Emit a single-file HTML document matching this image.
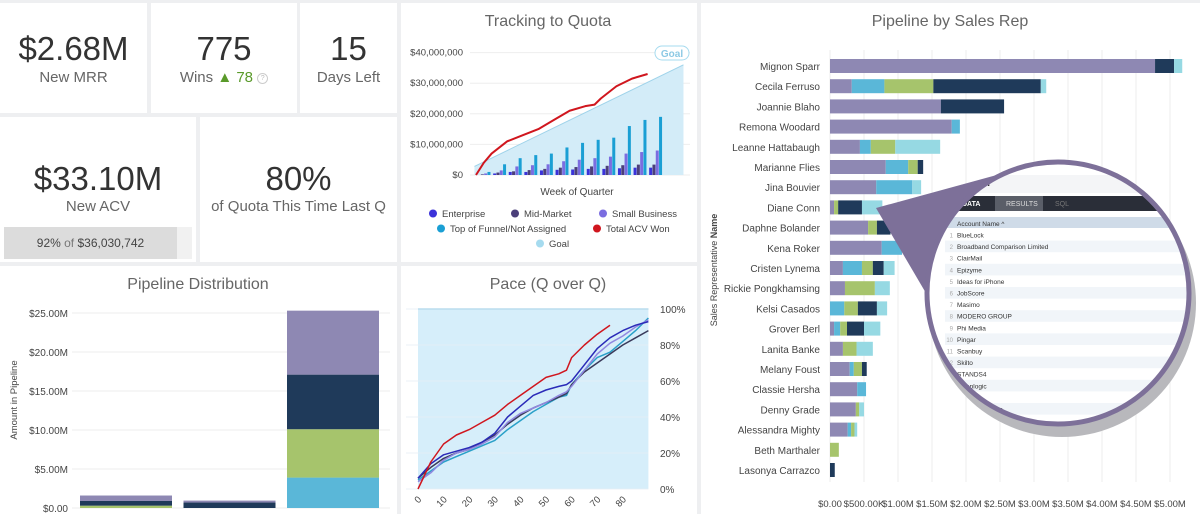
<!DOCTYPE html>
<html><head><meta charset="utf-8">
<style>
html,body{margin:0;padding:0;background:#eeeff1;}
body{width:1200px;height:514px;overflow:hidden;position:relative;font-family:"Liberation Sans",sans-serif;}
.p{position:absolute;background:#fff;}
.kv{position:absolute;left:0;right:0;text-align:center;color:#333;}
svg text{font-family:"Liberation Sans",sans-serif;}
</style></head>
<body>
<div class="p" style="left:0;top:3px;width:147px;height:110px">
 <div class="kv" style="top:27px;font-size:33px">$2.68M</div>
 <div class="kv" style="top:66px;font-size:15px;color:#666">New MRR</div>
</div>
<div class="p" style="left:151px;top:3px;width:146px;height:110px">
 <div class="kv" style="top:27px;font-size:33px">775</div>
 <div class="kv" style="top:66px;font-size:15px;color:#666">Wins <span style="color:#5a9a2a">▲ 78</span> <span style="display:inline-block;width:9px;height:9px;border:1px solid #ccc;border-radius:50%;font-size:7px;line-height:9px;color:#bbb;vertical-align:middle">?</span></div>
</div>
<div class="p" style="left:300px;top:3px;width:97px;height:110px">
 <div class="kv" style="top:27px;font-size:33px">15</div>
 <div class="kv" style="top:66px;font-size:15px;color:#666">Days Left</div>
</div>
<div class="p" style="left:0;top:117px;width:196px;height:145px">
 <div class="kv" style="top:43px;font-size:33px">$33.10M</div>
 <div class="kv" style="top:81px;font-size:15px;color:#666">New ACV</div>
 <div style="position:absolute;left:4px;top:110px;width:188px;height:32px;background:#f1f1f1"></div>
 <div style="position:absolute;left:4px;top:110px;width:173px;height:32px;background:#dcdcdc;text-align:center;line-height:32px;font-size:12px;color:#444">92% <span style="color:#777">of</span> $36,030,742</div>
</div>
<div class="p" style="left:200px;top:117px;width:197px;height:145px">
 <div class="kv" style="top:43px;font-size:33px">80%</div>
 <div class="kv" style="top:81px;font-size:15px;color:#666">of Quota This Time Last Q</div>
</div>
<div class="p" style="left:401px;top:3px;width:296px;height:259px"></div>
<div class="p" style="left:0;top:266px;width:397px;height:248px"></div>
<div class="p" style="left:401px;top:266px;width:296px;height:248px"></div>
<div class="p" style="left:701px;top:3px;width:499px;height:511px"></div>

<svg id="s" width="1200" height="514" style="position:absolute;left:0;top:0"></svg>

<script>
// ---- Tracking to Quota data ----
const trkEnterprise=[0,0.5,1,1,1.5,1.7,1.8,2,2,2.2,2.4,2.4];
const trkMidMarket=[0.2,0.8,1.2,1.6,2,2.4,2.6,2.8,3,3.2,3.4,3.4];
const trkSmallBiz=[0.5,1.5,2.8,3.2,3.5,4.5,5,5.5,6,7,7.5,8];
const trkTopFunnel=[1,3.5,5.5,6.5,7,9,10.5,11.5,12.2,16,18,19];
const trkAcvWeeks=[0,0.5,1,2,3,4,5,6,7,7.6,8,9,10,11];
const trkAcvWon=[0,4,7,11,13,15,18,21,22.5,23,25,29,31.5,33];
const trkGoalWeeks=[-0.1,13.3];
const trkGoalVals=[2.8,36];
const trkTicks=[0,10,20,30,40];
const trkTickLabels=["$0","$10,000,000","$20,000,000","$30,000,000","$40,000,000"];
// ---- Pipeline distribution data ----
const pdCats=["A","B","C"];
const pdBlue=[0,0,3.9];
const pdGreen=[0.3,0,6.2];
const pdNavy=[0.6,0.7,7.0];
const pdPurple=[0.7,0.25,8.2];
const pdTicks=[0,5,10,15,20,25];
const pdTickLabels=["$0.00","$5.00M","$10.00M","$15.00M","$20.00M","$25.00M"];
// ---- Pace data ----
const paceX=[0,5,10,15,20,25,30,35,40,45,50,55,58,60,65,70,75,80,85,90];
const paceRed=[0,15,25,30,33,37,41,47,52,57,62,64,66,73,80,86,91,null,null,null];
const paceBlue=[6,14,19,21,23,26,31,40,46,52,55,57,58,60,69,78,84,88,91,93];
const pacePurple=[4,9,16,20,22,25,29,37,42,45,48,52,54,57,66,75,81,85,90,94];
const paceNavy=[6,12,17,20,22,26,30,36,41,45,48,51,53,58,65,70,75,80,84,88];
const paceCyan=[5,10,15,18,21,24,27,33,38,43,47,51,52,58,66,73,76,82,88,95];
const paceYTicks=[0,20,40,60,80,100];
const paceXTicks=[0,10,20,30,40,50,60,70,80];
// ---- Sales rep data ($M) ----
const reps=["Mignon Sparr","Cecila Ferruso","Joannie Blaho","Remona Woodard","Leanne Hattabaugh","Marianne Flies","Jina Bouvier","Diane Conn","Daphne Bolander","Kena Roker","Cristen Lynema","Rickie Pongkhamsing","Kelsi Casados","Grover Berl","Lanita Banke","Melany Foust","Classie Hersha","Denny Grade","Alessandra Mighty","Beth Marthaler","Lasonya Carrazco"];
const repPurple=[4.78,0.32,1.63,1.79,0.44,0.82,0.68,0.06,0.56,0.76,0.19,0.22,0,0.06,0.19,0.29,0.4,0.38,0.26,0,0];
const repBlue=[0,0.48,0,0.12,0.16,0.33,0.53,0,0,0.3,0.28,0,0.21,0.09,0,0.06,0.13,0,0.05,0,0];
const repGreen=[0,0.72,0,0,0.36,0.14,0,0.06,0.13,0,0.16,0.44,0.2,0.1,0.2,0.12,0,0.05,0.05,0.13,0];
const repNavy=[0.28,1.58,0.93,0,0,0.08,0,0.35,0.2,0,0.16,0,0.28,0.25,0,0.07,0,0,0,0,0.07];
const repCyan=[0.12,0.08,0,0,0.66,0,0.13,0.3,0,0,0.16,0.22,0.15,0.24,0.24,0,0,0.07,0.04,0,0];
const repTicks=[0,0.5,1,1.5,2,2.5,3,3.5,4,4.5,5];
const repTickLabels=["$0.00","$500.00K","$1.00M","$1.50M","$2.00M","$2.50M","$3.00M","$3.50M","$4.00M","$4.50M","$5.00M"];

const S=document.getElementById('s');
const NS='http://www.w3.org/2000/svg';
function mk(tag,a,p){const e=document.createElementNS(NS,tag);for(const k in a)e.setAttribute(k,a[k]);(p||S).appendChild(e);return e;}
function tx(x,y,s,a,p){const e=mk('text',Object.assign({x:x,y:y},a),p);e.textContent=s;return e;}

// ===== Tracking to Quota =====
let e;
e=tx(548,26,"Tracking to Quota",{'font-size':16,fill:'#666','text-anchor':'middle'});

const tY=v=>175-v*3.06, tX=w=>476+w*15.6;
trkTicks.forEach((t,i)=>{
 e=mk('line',{x1:470,x2:690,y1:tY(t),y2:tY(t),stroke:'#eee'});
 
 e=tx(463,tY(t)+3,trkTickLabels[i],{'font-size':9.5,fill:'#444','text-anchor':'end'});
 
});
e=mk('polygon',{points:`${tX(trkGoalWeeks[0])},${tY(0)} ${tX(trkGoalWeeks[0])},${tY(trkGoalVals[0])} ${tX(trkGoalWeeks[1])},${tY(trkGoalVals[1])} ${tX(trkGoalWeeks[1])},${tY(0)}`,fill:'#d3ecf8'});

e=mk('line',{x1:tX(trkGoalWeeks[0]),y1:tY(trkGoalVals[0]),x2:tX(trkGoalWeeks[1]),y2:tY(trkGoalVals[1]),stroke:'#9fd3ea','stroke-width':1});

[[trkEnterprise,'#3b32d9'],[trkMidMarket,'#4b3f7a'],[trkSmallBiz,'#7b6de0'],[trkTopFunnel,'#1a9fd4']].forEach((s,si)=>{
 s[0].forEach((v,i)=>{
  const x=tX(i+0.1)+si*3.3;
  e=mk('rect',{x:x,y:tY(v),width:3,height:tY(0)-tY(v),fill:s[1]});
  
 });
});
e=mk('polyline',{points:trkAcvWeeks.map((w,i)=>tX(w)+','+tY(trkAcvWon[i])).join(' '),fill:'none',stroke:'#d0161e','stroke-width':2,'stroke-linejoin':'round'});

e=mk('rect',{x:655,y:46,width:34,height:14,rx:7,fill:'#fff',stroke:'#a6dbef'});

e=tx(672,57,"Goal",{'font-size':10,fill:'#8cc9e4','text-anchor':'middle','font-weight':'bold'});

e=tx(577,195,"Week of Quarter",{'font-size':10,fill:'#444','text-anchor':'middle'});

[["Enterprise",'#3b32d9',433,217],["Mid-Market",'#4b3f7a',515,217],["Small Business",'#7b6de0',603,217],["Top of Funnel/Not Assigned",'#1a9fd4',441,232],["Total ACV Won",'#d0161e',597,232],["Goal",'#a6dbef',540,247]].forEach(l=>{
 e=mk('circle',{cx:l[2],cy:l[3]-3.5,r:4,fill:l[1]});
 
 e=tx(l[2]+9,l[3],l[0],{'font-size':9.5,fill:'#444'});
 
});

// ===== Pipeline Distribution =====
e=tx(198,289,"Pipeline Distribution",{'font-size':16,fill:'#666','text-anchor':'middle'});

const pY=v=>508-v*7.8;
pdTicks.forEach((t,i)=>{
 e=mk('line',{x1:72,x2:390,y1:pY(t),y2:pY(t),stroke:'#eee'});
 
 e=tx(68,pY(t)+4,pdTickLabels[i],{'font-size':10,fill:'#444','text-anchor':'end'});
 
});
e=tx(0,0,"Amount in Pipeline",{'font-size':9.5,fill:'#444','text-anchor':'middle',transform:'translate(17,400) rotate(-90)'});

pdCats.forEach((c,i)=>{
 const x=80+i*103.5;let base=0;
 [[pdBlue,'#5ab7d8'],[pdGreen,'#a6c46c'],[pdNavy,'#1f3a5a'],[pdPurple,'#8e88b3']].forEach(s=>{
  const v=s[0][i];if(v<=0)return;
  e=mk('rect',{x:x,y:pY(base+v),width:92,height:pY(base)-pY(base+v),fill:s[1]});
  
  base+=v;
 });
});

// ===== Pace =====
e=tx(548,289,"Pace (Q over Q)",{'font-size':16,fill:'#666','text-anchor':'middle'});

const qX=v=>418+v*2.56, qY=v=>489-v*1.8;
e=mk('rect',{x:418,y:qY(100),width:qX(90)-418,height:qY(0)-qY(100),fill:'#d6eefa'});

e=mk('line',{x1:418,x2:qX(90),y1:qY(100),y2:qY(100),stroke:'#8fcbe8','stroke-width':1.5});

paceYTicks.forEach(t=>{
 e=mk('line',{x1:406,x2:qX(90),y1:qY(t),y2:qY(t),stroke:'#e4eef4','stroke-width':0.8});
 
 e=tx(660,qY(t)+4,t+"%",{'font-size':10,fill:'#444'});
 
});
paceXTicks.forEach(t=>{
 e=tx(0,0,String(t),{'font-size':9.5,fill:'#444','text-anchor':'end',transform:`translate(${qX(t)+4},${500}) rotate(-45)`});
 
});
[[paceCyan,'#2aa0c8'],[paceNavy,'#3a3a5a'],[pacePurple,'#9088e0'],[paceBlue,'#2a2ab8'],[paceRed,'#d0161e']].forEach(s=>{
 const pts=[];s[0].forEach((v,i)=>{if(v!==null)pts.push(qX(paceX[i])+','+qY(v));});
 e=mk('polyline',{points:pts.join(' '),fill:'none',stroke:s[1],'stroke-width':1.5,'stroke-linejoin':'round'});
 
});

// ===== Pipeline by Sales Rep =====
e=tx(950,26,"Pipeline by Sales Rep",{'font-size':16,fill:'#666','text-anchor':'middle'});

const rX=v=>830+v*68, rY=i=>66+i*20.2;
repTicks.forEach((t,i)=>{
 e=mk('line',{x1:rX(t),x2:rX(t),y1:50,y2:482,stroke:'#eee'});
 
 e=tx(rX(t),507,repTickLabels[i],{'font-size':9.5,fill:'#444','text-anchor':'middle'});
 
});
e=tx(0,0,"Sales Representative ",{'font-size':9,fill:'#444','text-anchor':'middle',transform:'translate(717,270) rotate(-90)'});

const b=mk('tspan',{'font-weight':'bold'},e);b.textContent="Name";
reps.forEach((r,i)=>{
 e=tx(820,rY(i)+4,r,{'font-size':10,fill:'#444','text-anchor':'end'});
 
 let base=0;
 [[repPurple,'#8e88b3'],[repBlue,'#5ab7d8'],[repGreen,'#a6c46c'],[repNavy,'#1f3a5a'],[repCyan,'#96d9e3']].forEach(s=>{
  const v=s[0][i];if(v<=0)return;
  e=mk('rect',{x:rX(base),y:rY(i)-7,width:rX(base+v)-rX(base),height:14,fill:s[1]});
  
  base+=v;
 });
});

// ===== Magnifier lens =====
const cx=1058,cy=293,R=131;
e=mk('circle',{cx:cx+4,cy:cy+10,r:R+3,fill:'#b8b8bc'});

e=mk('polygon',{points:`876,208 1015,170 ${cx},${cy} 930,300`,fill:'#7d7099'});

e=mk('clipPath',{id:'lc'});mk('circle',{cx:cx,cy:cy,r:R},e);

const g=mk('g',{'clip-path':'url(#lc)'});

mk('rect',{x:cx-R,y:cy-R,width:2*R,height:2*R,fill:'#fff'},g);
mk('rect',{x:cx-R,y:175,width:2*R,height:18,fill:'#f4f5f7'},g);
e=tx(958,186,"LIZATION",{'font-size':7,fill:'#333','font-weight':'bold'},g);
mk('rect',{x:cx-R,y:196,width:2*R,height:15,fill:'#2a2e38'},g);
mk('rect',{x:995,y:196,width:48,height:15,fill:'#5a5e68'},g);
tx(962,206,"DATA",{'font-size':7,fill:'#fff','font-weight':'bold'},g);
tx(1006,206,"RESULTS",{'font-size':7,fill:'#ddd'},g);
tx(1055,206,"SQL",{'font-size':7,fill:'#777'},g);
mk('rect',{x:945,y:217,width:250,height:11,fill:'#cfdbe8'},g);
tx(957,226,"Account Name ^",{'font-size':6.5,fill:'#333'},g);
const acct=["BlueLock","Broadband Comparison Limited","ClairMail","Epizyme","Ideas for iPhone","JobScore","Masimo","MODERO GROUP","Phi Media","Pingar","Scanbuy","Skilto","STANDS4","Swaplogic","Tuna","Tapp Interactive"];
acct.forEach((a,i)=>{
 const y=229+i*11.6;
 if(i%2)mk('rect',{x:945,y:y,width:250,height:11.6,fill:'#f1f5f9'},g);
 tx(953,y+8.5,String(i+1),{'font-size':6,fill:'#aaa','text-anchor':'end'},g);
 tx(957,y+8.5,a,{'font-size':6.5,fill:'#333'},g);
});
e=mk('circle',{cx:cx,cy:cy,r:R,fill:'none',stroke:'#7d7099','stroke-width':5});

</script>
</body></html>
